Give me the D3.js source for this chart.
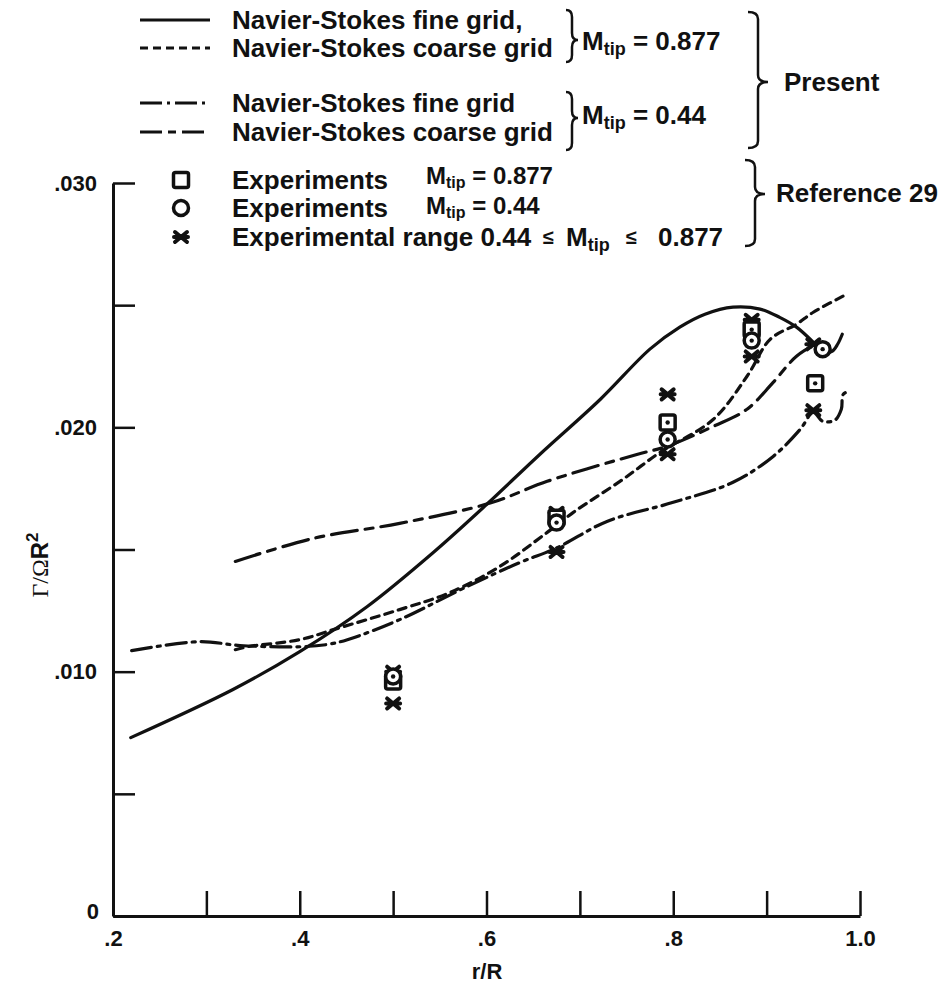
<!DOCTYPE html>
<html>
<head>
<meta charset="utf-8">
<script src="https://cdn.jsdelivr.net/npm/d3@7"></script>
<style>
  body { margin: 0; background: #fff; }
  text { font-family: "Liberation Sans", Arial, sans-serif; font-weight: bold; fill: #111; }
</style>
</head>
<body>
<script>
var w = 946;
var h = 986;

// computed curves, r/R and Gamma/(Omega R^2)
var fineHigh = [[0.219,0.00730],[0.328,0.00926],[0.400,0.01082],[0.472,0.01266],[0.543,0.01488],
  [0.600,0.01684],[0.657,0.01889],[0.722,0.02115],[0.775,0.02320],[0.807,0.02410],[0.834,0.02463],
  [0.864,0.02492],[0.893,0.02484],[0.914,0.02450],[0.932,0.02410],[0.950,0.02348],[0.960,0.02307],
  [0.970,0.02311],[0.976,0.02340],[0.981,0.02381]];
var coarseHigh = [[0.331,0.01090],[0.344,0.01102],[0.400,0.01131],[0.436,0.01172],[0.507,0.01254],
  [0.561,0.01324],[0.614,0.01430],[0.665,0.01570],[0.693,0.01652],[0.746,0.01787],[0.786,0.01898],
  [0.843,0.02033],[0.879,0.02209],[0.904,0.02361],[0.932,0.02422],[0.950,0.02471],[0.986,0.02545]];
var fineLow = [[0.220,0.01086],[0.293,0.01123],[0.336,0.01107],[0.400,0.01102],[0.429,0.01111],
  [0.451,0.01131],[0.507,0.01213],[0.579,0.01348],[0.636,0.01447],[0.676,0.01508],[0.729,0.01615],
  [0.800,0.01693],[0.864,0.01775],[0.907,0.01881],[0.936,0.01992],[0.950,0.02061],[0.960,0.02025],
  [0.973,0.02029],[0.980,0.02074],[0.982,0.02135],[0.989,0.02148]];
var coarseLow = [[0.331,0.01451],[0.414,0.01545],[0.507,0.01607],[0.604,0.01690],[0.665,0.01779],
  [0.761,0.01889],[0.793,0.01922],[0.843,0.02004],[0.879,0.02074],[0.907,0.02184],[0.932,0.02291],
  [0.950,0.02332],[0.968,0.02340]];

// experiments (reference 29)
var expHigh = [[0.500,0.0096],[0.675,0.0163],[0.794,0.0202],[0.884,0.0240],[0.952,0.0218]];
var expLow = [[0.500,0.0098],[0.675,0.0161],[0.794,0.0195],[0.884,0.02355],[0.960,0.0232]];
var expRange = [[0.500,0.0100],[0.500,0.0087],[0.675,0.0165],[0.675,0.0149],[0.794,0.02135],
  [0.794,0.0189],[0.884,0.0244],[0.884,0.0229],[0.950,0.0234],[0.950,0.0207]];

var xTicks = [0.2,0.3,0.4,0.5,0.6,0.7,0.8,0.9,1.0];
var yTicks = [0,0.005,0.010,0.015,0.020,0.025,0.030];

var svg = d3.select('body').append('svg')
    .attr('width', w)
    .attr('height', h);

var x = d3.scaleLinear().domain([0.2, 1.0]).range([113, 860]);
var y = d3.scaleLinear().domain([0, 0.030]).range([916, 183]);

// axes, ticks point inward
var xAxis = d3.axisBottom(x).tickValues(xTicks).tickSizeInner(-25).tickSizeOuter(0).tickPadding(14)
    .tickFormat(function(d) { return Math.round(d*10) % 2 ? '' : (d == 1 ? '1.0' : d3.format('.1f')(d).replace(/^0/, '')); });
var yAxis = d3.axisLeft(y).tickValues(yTicks).tickSizeInner(-22).tickSizeOuter(0).tickPadding(16)
    .tickFormat(function(d) { var k = Math.round(d*1000); return k % 10 ? '' : (k == 0 ? '0' : d3.format('.3f')(d).replace(/^0/, '')); });

var gx = svg.append('g').attr('transform', 'translate(0,916)').call(xAxis);
var gy = svg.append('g').attr('transform', 'translate(113,0)').call(yAxis);
[gx, gy].forEach(function(g) {
  g.select('.domain').attr('stroke', '#111').attr('stroke-width', 3);
  g.selectAll('.tick line').attr('stroke', '#111').attr('stroke-width', 2.5);
  g.selectAll('.tick text').attr('font-size', 22).attr('font-family', '"Liberation Sans", Arial, sans-serif')
    .attr('font-weight', 'bold').attr('fill', '#111');
});
gy.selectAll('.tick text').filter(function(d) { return d == 0; }).attr('dy', '0.1em').attr('x', -14);

svg.append('text').attr('x', 487).attr('y', 979).attr('text-anchor', 'middle')
    .attr('font-size', 22).text('r/R');

var yl = svg.append('text').attr('transform', 'translate(48,565) rotate(-90)')
    .attr('text-anchor', 'middle').attr('font-size', 24);
yl.append('tspan').attr('font-family', '"Liberation Serif", serif').attr('font-weight', 'normal').text('Γ/Ω');
yl.append('tspan').text('R');
yl.append('tspan').attr('font-size', 17).attr('dy', -10).text('2');

// curves
var line = d3.line().x(function(d) { return x(d[0]); }).y(function(d) { return y(d[1]); })
    .curve(d3.curveCatmullRom.alpha(0.5));

var styles = [
  { data: fineHigh, dash: null },
  { data: coarseHigh, dash: '8,6' },
  { data: fineLow, dash: '20,6,3,6' },
  { data: coarseLow, dash: '26,8,8,8' }
];
styles.forEach(function(s) {
  svg.append('path').datum(s.data).attr('d', line)
    .attr('fill', 'none').attr('stroke', '#111').attr('stroke-width', 3.2)
    .attr('stroke-linecap', 'round')
    .attr('stroke-dasharray', s.dash);
});

// markers
function star(g) {
  g.append('path').attr('d', 'M-6,-5L6,5M-6,5L6,-5M-7,0L7,0')
    .attr('stroke', '#111').attr('stroke-width', 4).attr('stroke-linecap', 'round');
}
function square(g) {
  g.append('rect').attr('x', -7.5).attr('y', -7.5).attr('width', 15).attr('height', 15).attr('rx', 2)
    .attr('fill', '#fff').attr('stroke', '#111').attr('stroke-width', 3.5);
}
function circle(g) {
  g.append('circle').attr('r', 7.5).attr('fill', '#fff').attr('stroke', '#111').attr('stroke-width', 3.5);
}

svg.selectAll('.rng').data(expRange).enter().append('g')
    .attr('transform', function(d) { return 'translate(' + x(d[0]) + ',' + y(d[1]) + ')'; })
    .each(function() { star(d3.select(this)); });
svg.selectAll('.sq').data(expHigh).enter().append('g')
    .attr('transform', function(d) { return 'translate(' + x(d[0]) + ',' + y(d[1]) + ')'; })
    .each(function() { square(d3.select(this)); d3.select(this).append('circle').attr('r', 2.2).attr('fill', '#111'); });
svg.selectAll('.ci').data(expLow).enter().append('g')
    .attr('transform', function(d) { return 'translate(' + x(d[0]) + ',' + y(d[1]) + ')'; })
    .each(function() { circle(d3.select(this)); d3.select(this).append('circle').attr('r', 2.2).attr('fill', '#111'); });

// legend
var fs = 26;
var lineRows = [
  { label: 'Navier-Stokes fine grid,', dash: null, y: 20 },
  { label: 'Navier-Stokes coarse grid', dash: '8,5', y: 48 },
  { label: 'Navier-Stokes fine grid', dash: '22,5,3,5', y: 103 },
  { label: 'Navier-Stokes coarse grid', dash: '22,6,8,6', y: 132 }
];
lineRows.forEach(function(r) {
  svg.append('line').attr('x1', 140).attr('x2', 210).attr('y1', r.y).attr('y2', r.y)
    .attr('stroke', '#111').attr('stroke-width', 3.2).attr('stroke-dasharray', r.dash);
  svg.append('text').attr('x', 232).attr('y', r.y + 9).attr('font-size', fs).text(r.label);
});

function mtip(xx, yy, rest, size, sub, drop) {
  var dd = drop || 5;
  var t = svg.append('text').attr('x', xx).attr('y', yy).attr('font-size', size || fs);
  t.append('tspan').text('M');
  t.append('tspan').attr('font-size', sub || 18).attr('dy', dd).text('tip');
  t.append('tspan').attr('dy', -dd).text(rest);
  return t;
}
mtip(582, 50, ' = 0.877');
mtip(582, 124, ' = 0.44');

var expRows = [
  { label: 'Experiments', y: 180, sym: square, m: ' = 0.877', my: 184 },
  { label: 'Experiments', y: 208, sym: circle, m: ' = 0.44', my: 214 }
];
expRows.forEach(function(r) {
  var g = svg.append('g').attr('transform', 'translate(181,' + r.y + ')');
  r.sym(g);
  svg.append('text').attr('x', 232).attr('y', r.y + 9).attr('font-size', fs).text(r.label);
  mtip(426, r.my, r.m, 24, 16, 4);
});
star(svg.append('g').attr('transform', 'translate(181,237)'));
svg.append('text').attr('x', 232).attr('y', 246).attr('font-size', fs).text('Experimental range 0.44');
svg.append('text').attr('x', 543).attr('y', 244).attr('font-size', 20).attr('font-weight', 'normal').text('≤');
var m7 = svg.append('text').attr('x', 566).attr('y', 246).attr('font-size', fs);
m7.append('tspan').text('M');
m7.append('tspan').attr('font-size', 18).attr('dy', 5).text('tip');
svg.append('text').attr('x', 626).attr('y', 244).attr('font-size', 20).attr('font-weight', 'normal').text('≤');
svg.append('text').attr('x', 658).attr('y', 246).attr('font-size', fs).text('0.877');

// braces
function brace(bx, y0, y1, tip, bw) {
  var m = bx + bw * 0.5, e = bx + bw, r = 7;
  var p = 'M' + bx + ',' + y0 + 'Q' + m + ',' + y0 + ' ' + m + ',' + (y0 + r) +
    'L' + m + ',' + (tip - r) + 'Q' + m + ',' + tip + ' ' + e + ',' + tip +
    'Q' + m + ',' + tip + ' ' + m + ',' + (tip + r) +
    'L' + m + ',' + (y1 - r) + 'Q' + m + ',' + y1 + ' ' + bx + ',' + y1;
  svg.append('path').attr('d', p).attr('fill', 'none').attr('stroke', '#111').attr('stroke-width', 2.5);
}
brace(566, 10, 62, 40, 12);
brace(566, 92, 150, 118, 12);
brace(748, 12, 148, 82, 20);
brace(745, 160, 246, 194, 20);
svg.append('text').attr('x', 784).attr('y', 91).attr('font-size', fs).text('Present');
svg.append('text').attr('x', 776).attr('y', 202).attr('font-size', fs).text('Reference 29');
</script>
</body>
</html>
